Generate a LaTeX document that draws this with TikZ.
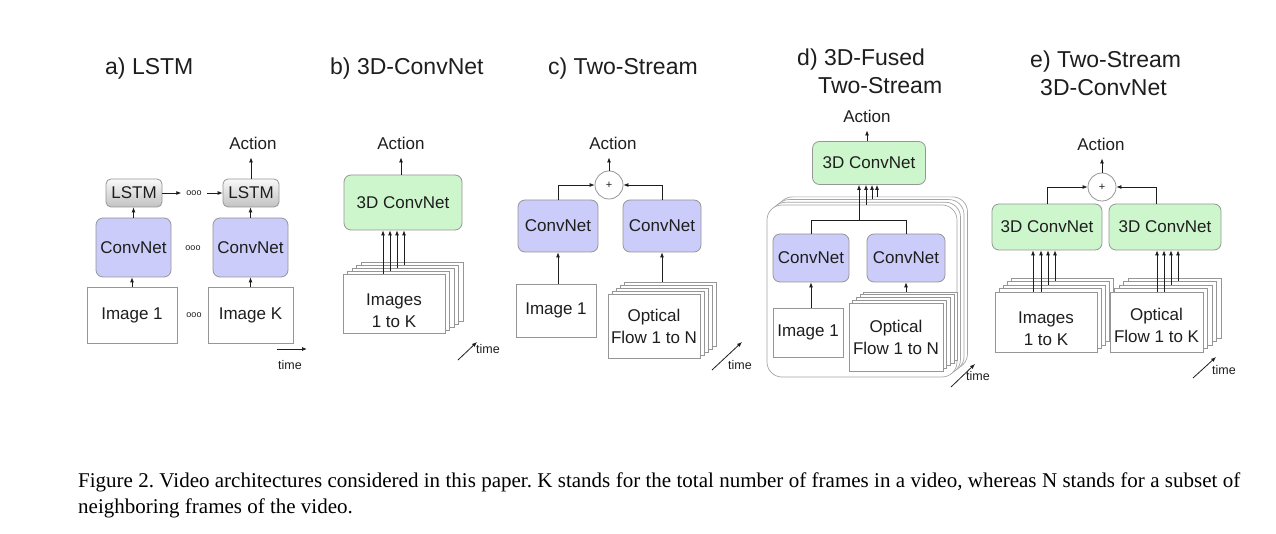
\documentclass[tikz,border=0pt]{standalone}
\usepackage{fontspec}
\setmainfont{Liberation Sans}
\newfontfamily\capfont{Liberation Serif}
\usetikzlibrary{arrows.meta,calc}
\definecolor{bordg}{RGB}{150,150,150}
\definecolor{bigg}{RGB}{165,165,165}
\definecolor{convc}{RGB}{204,204,250}
\definecolor{greenc}{RGB}{205,246,205}
\definecolor{inkc}{RGB}{30,30,30}
\newcommand\stackarr[3]{\draw[arr] ([xshift=#2]#1.north) coordinate (qq) -- (qq |- #3.south);}
\newcommand\dn[1]{\rule{0pt}{#1}}
\begin{document}
\begin{tikzpicture}[x=1pt,y=-1pt,
  lbl/.style={font=\fontsize{17}{22}\selectfont, inner sep=0pt, align=center, text=inkc},
  box/.style={draw=bordg, line width=0.8pt, lbl},
  convbox/.style={box, rounded corners=7pt, fill=convc},
  gbox/.style={box, rounded corners=7pt, fill=greenc},
  lstmbox/.style={box, rounded corners=5pt, top color=gray!5, bottom color=gray!48},
  imgbox/.style={box, fill=white},
  bigbox/.style={draw=bigg, line width=0.7pt, fill=white, rounded corners=15pt, inner sep=0pt},
  arr/.style={-{Latex[length=5pt,width=4pt]}, line width=0.8pt, draw=inkc},
  ln/.style={line width=0.8pt, draw=inkc},
  ttl/.style={font=\fontsize{23}{28}\selectfont, inner sep=0pt, anchor=base west, text=inkc},
  tm/.style={font=\fontsize{12.5}{14}\selectfont, inner sep=0pt, text=inkc},
  dots/.style={font=\fontsize{9}{10}\selectfont, inner sep=0pt, text=inkc},
  plus/.style={circle, draw=bordg, line width=0.8pt, fill=white, minimum size=28pt, inner sep=0pt, font=\fontsize{11}{12}\selectfont, text=inkc},
]
\fill[white] (0,0) rectangle (1276,534);
\useasboundingbox (0,0) rectangle (1276,534);

% ---------------- a) LSTM
\node[ttl] (ta) at (105,75) {a) LSTM};
\node[lbl] (aa) at (253,143) {Action};
\node[lstmbox, minimum width=56pt, minimum height=28pt] (la1) at (134,193) {LSTM};
\node[lstmbox, minimum width=56pt, minimum height=28pt] (la2) at (251,193) {LSTM};
\node[dots, inner sep=5pt] (da1) at (194,193) {ooo};
\node[convbox, minimum width=75pt, minimum height=59pt] (ca1) at (133.5,247.5) {ConvNet};
\node[convbox, minimum width=75pt, minimum height=59pt] (ca2) at (250.5,247.5) {ConvNet};
\node[dots] (da2) at (193,248) {ooo};
\node[imgbox, minimum width=90pt, minimum height=56pt] (ia1) at (132,315) {Image 1};
\node[imgbox, minimum width=85pt, minimum height=56pt] (ia2) at (250.5,315) {Image K};
\node[dots] (da3) at (194,315) {ooo};
\draw[arr] (la1.east) -- (da1.west);
\draw[arr] (da1.east) -- (la2.west);
\draw[arr] (ca1.north) -- (ca1.north |- la1.south);
\draw[arr] (ca2.north) -- (ca2.north |- la2.south);
\draw[arr] (ia1.north) -- (ia1.north |- ca1.south);
\draw[arr] (ia2.north) -- (ia2.north |- ca2.south);
\draw[arr, shorten >=8pt] (la2.north) -- (la2.north |- aa.south);
\coordinate (tma0) at (277,349);
\coordinate (tma1) at (307,349);
\draw[arr] (tma0) -- (tma1);
\node[tm] (tta) at (290,365) {time};

% ---------------- b) 3D-ConvNet
\node[ttl] (tb) at (330,75) {b) 3D-ConvNet};
\node[lbl] (ab) at (401,143) {Action};
\node[gbox, minimum width=118pt, minimum height=55pt] (b3d) at (403,202.5) {3D ConvNet};
\draw[arr, shorten >=8pt] ([xshift=-2pt]b3d.north) coordinate (qq) -- (qq |- ab.south);
\foreach \i in {4,3,2,1}
  \node[imgbox, minimum width=102pt, minimum height=59pt] (bs\i) at ({394+4.5*\i},{303.5-3*\i}) {};
\node[imgbox, minimum width=102pt, minimum height=59pt] (bs0) at (394,303.5) {\dn{27pt}Images\\1 to K};
\stackarr{bs0}{-11pt}{b3d}
\stackarr{bs1}{-8.5pt}{b3d}
\stackarr{bs2}{-6pt}{b3d}
\stackarr{bs3}{-3.5pt}{b3d}
\coordinate (tmb0) at (458,360);
\coordinate (tmb1) at (477,342);
\draw[arr] (tmb0) -- (tmb1);
\node[tm] (ttb) at (488,349) {time};

% ---------------- c) Two-Stream
\node[ttl] (tc) at (548,75) {c) Two-Stream};
\node[lbl] (ac) at (613,143) {Action};
\node[plus] (pc) at (609,185) {+};
\node[convbox, minimum width=80pt, minimum height=52pt] (cc1) at (558,226) {ConvNet};
\node[convbox, minimum width=78pt, minimum height=52pt] (cc2) at (662,226) {ConvNet};
\draw[arr] (cc1.north) |- (pc.west);
\draw[arr] (cc2.north) |- (pc.east);
\draw[arr, shorten >=8pt] (pc.north) -- (pc.north |- ac.south);
\node[imgbox, minimum width=80pt, minimum height=53pt] (ic1) at (556,310.5) {Image 1};
\draw[arr] (ic1.north -| cc1.south) -- (cc1.south);
\foreach \i in {4,3,2,1}
  \node[imgbox, minimum width=92pt, minimum height=64pt] (os\i) at ({654+4*\i},{326-3*\i}) {};
\node[imgbox, minimum width=92pt, minimum height=64pt] (os0) at (654,326) {Optical\\Flow 1 to N};
\draw[arr] (os4.north -| cc2.south) -- (cc2.south);
\coordinate (tmc0) at (712,370);
\coordinate (tmc1) at (742,342);
\draw[arr] (tmc0) -- (tmc1);
\node[tm] (ttc) at (740,365) {time};

% ---------------- d) 3D-Fused Two-Stream
\node[ttl] (td1) at (797,66) {d) 3D-Fused};
\node[ttl] (td2) at (818,94) {Two-Stream};
\node[lbl] (ad) at (867,116) {Action};
\node[gbox, minimum width=113pt, minimum height=43pt] (d3d) at (869,163) {3D ConvNet};
\draw[arr, shorten >=8pt] ([xshift=-2pt]d3d.north) coordinate (qq) -- (qq |- ad.south);
\foreach \i in {3,2,1}
  \node[bigbox, minimum width=190pt, minimum height=172pt] (bg\i) at ({862+3.5*\i},{291-2.7*\i}) {};
\node[bigbox, minimum width=190pt, minimum height=172pt] (bg0) at (862,291) {};
\node[convbox, minimum width=76pt, minimum height=48pt] (cd1) at (811,258) {ConvNet};
\node[convbox, minimum width=78pt, minimum height=48pt] (cd2) at (906,258) {ConvNet};
\draw[ln] (cd1.north) -- ++(0,-13) coordinate (jd) -| (cd2.north);
\coordinate (jd1) at (859,221);
\draw[arr] (jd1) -- (jd1 |- d3d.south);
\stackarr{bg0}{4pt}{d3d}
\stackarr{bg2}{3pt}{d3d}
\stackarr{bg3}{4.5pt}{d3d}
\node[imgbox, minimum width=70pt, minimum height=49pt] (id1) at (808,332.5) {Image 1};
\draw[arr] (id1.north -| cd1.south) -- (cd1.south);
\foreach \i in {4,3,2,1}
  \node[imgbox, minimum width=94pt, minimum height=68pt] (ds\i) at ({896+3.7*\i},{337-2.7*\i}) {};
\node[imgbox, minimum width=94pt, minimum height=68pt] (ds0) at (896,337) {Optical\\Flow 1 to N};
\draw[arr] (ds4.north -| cd2.south) -- (cd2.south);
\coordinate (tmd0) at (951,387);
\coordinate (tmd1) at (975,364);
\draw[arr] (tmd0) -- (tmd1);
\node[tm] (ttd) at (978,376) {time};

% ---------------- e) Two-Stream 3D-ConvNet
\node[ttl] (te1) at (1030,68) {e) Two-Stream};
\node[ttl] (te2) at (1040,96) {3D-ConvNet};
\node[lbl] (ae) at (1101,144) {Action};
\node[plus] (pe) at (1102,187) {+};
\node[gbox, minimum width=110pt, minimum height=46pt] (ce1) at (1047,227) {3D ConvNet};
\node[gbox, minimum width=112pt, minimum height=46pt] (ce2) at (1165,227) {3D ConvNet};
\draw[arr] (ce1.north) |- (pe.west);
\draw[arr] ([xshift=-9pt]ce2.north) |- (pe.east);
\draw[arr, shorten >=8pt] (pe.north) -- (pe.north |- ae.south);
\foreach \i in {4,3,2,1}
  \node[imgbox, minimum width=102pt, minimum height=60pt] (es\i) at ({1046+4*\i},{322-3.5*\i}) {};
\node[imgbox, minimum width=102pt, minimum height=60pt] (es0) at (1046,322) {\dn{24.5pt}Images\\1 to K};
\stackarr{es0}{-13pt}{ce1}
\stackarr{es0}{-5pt}{ce1}
\stackarr{es2}{-6pt}{ce1}
\stackarr{es3}{-3pt}{ce1}
\foreach \i in {4,3,2,1}
  \node[imgbox, minimum width=93pt, minimum height=60pt] (fs\i) at ({1156.5+4.5*\i},{322-3.5*\i}) {};
\node[imgbox, minimum width=93pt, minimum height=60pt] (fs0) at (1156.5,322) {\dn{19pt}Optical\\Flow 1 to K};
\stackarr{fs0}{0.5pt}{ce2}
\stackarr{fs0}{7.5pt}{ce2}
\stackarr{fs2}{5.5pt}{ce2}
\stackarr{fs3}{8pt}{ce2}
\coordinate (tme0) at (1193,378);
\coordinate (tme1) at (1216,357);
\draw[arr] (tme0) -- (tme1);
\node[tm] (tte) at (1224,370) {time};

% ---------------- caption
\node[inner sep=0pt, anchor=base west, font=\capfont\fontsize{21}{26}\selectfont] (cap1) at (78,487)
  {\frenchspacing\makebox[1162pt][s]{Figure 2. Video architectures considered in this paper. K stands for the total number of frames in a video, whereas N stands for a subset of}};
\node[inner sep=0pt, anchor=base west, font=\capfont\fontsize{21}{26}\selectfont] (cap2) at (78,513)
  {neighboring frames of the video.};
\end{tikzpicture}
\end{document}
